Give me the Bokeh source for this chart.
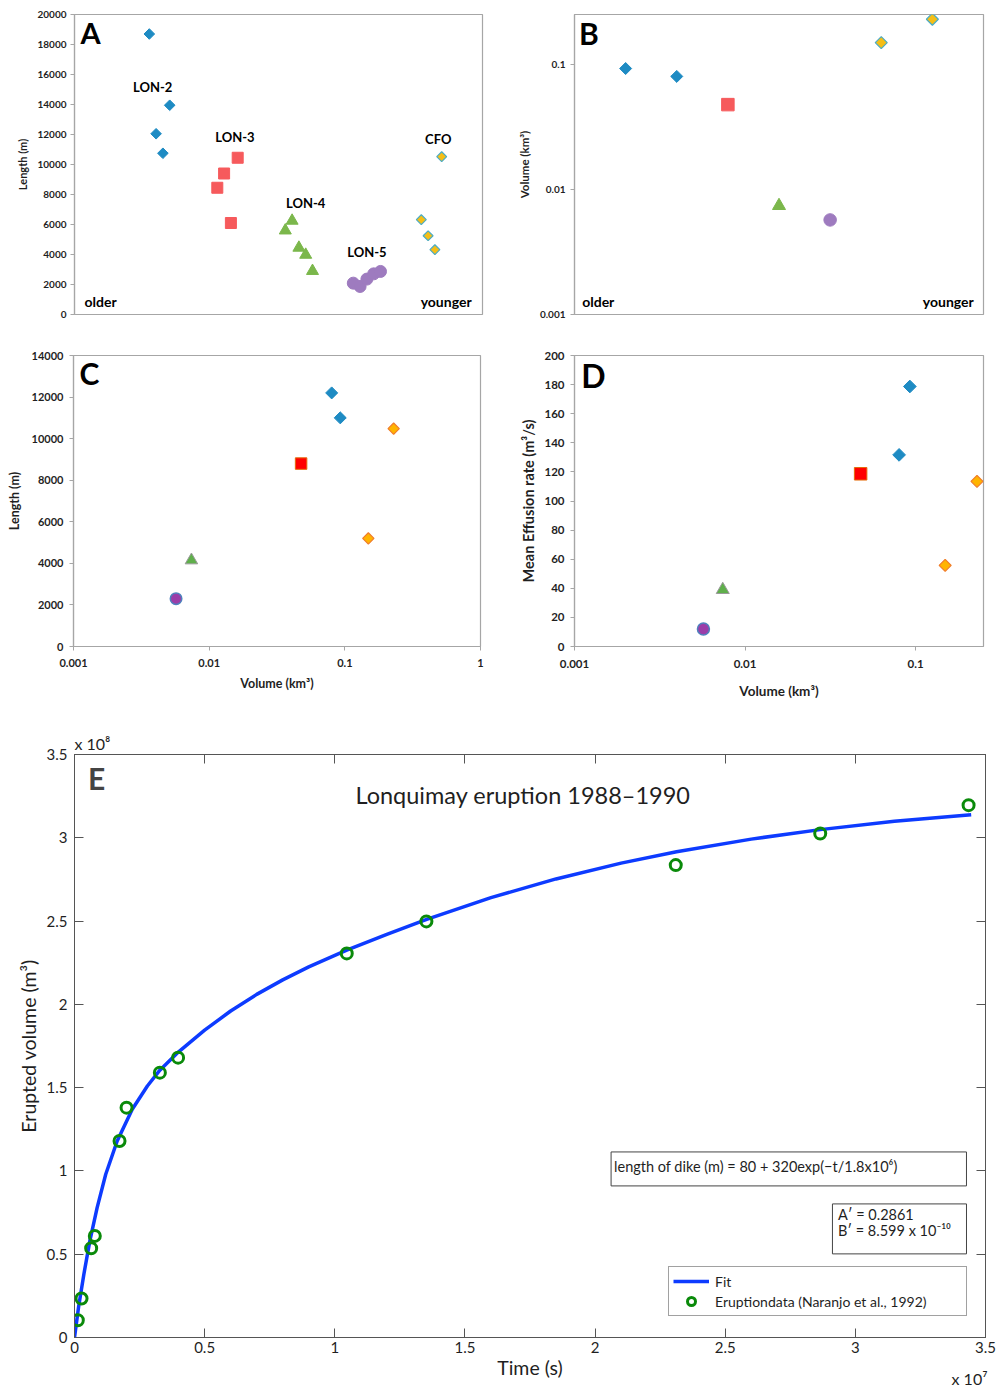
import numpy as np
from bokeh.plotting import figure
from bokeh.layouts import column, row
from bokeh.models import (Label, FixedTicker, CustomJSTickFormatter, LinearAxis,
                          BoxAnnotation, Legend, LegendItem, Range1d, Title)
from bokeh.embed import file_html
from bokeh.resources import INLINE

FONT = "Lato"

# ---------------- Panel A: relative age order vs dike length (m) ----------------
a_lon2_order = [11, 12, 13, 14]
a_lon2_length = [18700, 12050, 10750, 13950]
a_lon3_order = [21, 22, 23, 24]
a_lon3_length = [8450, 9400, 6100, 10450]
a_lon4_order = [31, 32, 33, 34, 35]
a_lon4_length = [5600, 6250, 4450, 3980, 2900]
a_lon5_order = [41, 42, 43, 44, 45]
a_lon5_length = [2090, 1870, 2360, 2710, 2870]
a_cfo_order = [51, 52, 53, 54]
a_cfo_length = [6320, 5250, 4320, 10520]
a_yticks = [0, 2000, 4000, 6000, 8000, 10000, 12000, 14000, 16000, 18000, 20000]
a_ylabels = ["0", "2000", "4000", "6000", "8000", "10000", "12000", "14000", "16000", "18000", "20000"]

# ---------------- Panels B-D: per eruptive unit ----------------
vol_lon2 = [0.0925, 0.0800]
len_lon2 = [11000, 12200]
rate_lon2 = [178.7, 131.7]
vol_lon3 = [0.0476]
len_lon3 = [8800]
rate_lon3 = [118.7]
vol_lon4 = [0.0074]
len_lon4 = [4150]
rate_lon4 = [39.0]
vol_lon5 = [0.0057]
len_lon5 = [2300]
rate_lon5 = [12.0]
vol_cfo = [0.149, 0.229]
len_cfo = [5200, 10480]
rate_cfo = [55.8, 113.5]
b_order_lon2 = [1, 2]
b_order_lon3 = [3]
b_order_lon4 = [4]
b_order_lon5 = [5]
b_order_cfo = [6, 7]

log_ticks = [0.001, 0.01, 0.1, 1]
log_labels = ["0.001", "0.01", "0.1", "1"]
c_yticks = [0, 2000, 4000, 6000, 8000, 10000, 12000, 14000]
c_ylabels = ["0", "2000", "4000", "6000", "8000", "10000", "12000", "14000"]
d_yticks = [0, 20, 40, 60, 80, 100, 120, 140, 160, 180, 200]
d_ylabels = ["0", "20", "40", "60", "80", "100", "120", "140", "160", "180", "200"]

# ---------------- Panel E: Lonquimay eruption ----------------
e_time = [1.27e5, 2.7e5, 6.4e5, 7.8e5, 1.73e6, 2.0e6, 3.28e6, 3.98e6,
          1.046e7, 1.352e7, 2.31e7, 2.865e7, 3.435e7]
e_volume = [1.04e7, 2.34e7, 5.36e7, 6.10e7, 1.18e8, 1.38e8, 1.59e8, 1.68e8,
            2.306e8, 2.498e8, 2.836e8, 3.026e8, 3.196e8]
fit_time = [0, 1.54e5, 3.6e5, 5.9e5, 8.7e5, 1.2e6, 1.64e6, 2.22e6, 2.8e6, 3.28e6,
            4.0e6, 5.0e6, 6.0e6, 7.0e6, 8.0e6, 9.0e6, 1.046e7, 1.2e7, 1.353e7, 1.6e7,
            1.85e7, 2.1e7, 2.313e7, 2.6e7, 2.865e7, 3.15e7, 3.445e7]
fit_volume = [0, 1.8e7, 3.8e7, 5.8e7, 7.8e7, 9.8e7, 1.18e8, 1.37e8, 1.51e8, 1.605e8,
              1.715e8, 1.845e8, 1.96e8, 2.06e8, 2.147e8, 2.225e8, 2.325e8, 2.42e8, 2.51e8, 2.641e8,
              2.753e8, 2.848e8, 2.916e8, 2.992e8, 3.049e8, 3.099e8, 3.139e8]
e_xticks = [0, 5e6, 1e7, 1.5e7, 2e7, 2.5e7, 3e7, 3.5e7]
e_xlabels = ["0", "0.5", "1", "1.5", "2", "2.5", "3", "3.5"]
e_yticks = [0, 5e7, 1e8, 1.5e8, 2e8, 2.5e8, 3e8, 3.5e8]
e_ylabels = ["0", "0.5", "1", "1.5", "2", "2.5", "3", "3.5"]

# ---------------- colours ----------------
BLUE = "#1e8bc3"
RED_A = "#f65a5c"
GREEN_A = "#7bb74b"
PURPLE_A = "#9e7bbf"
CFO_FILL = "#f5be16"
CFO_EDGE = "#4bacc6"
RED_C = "#ff0000"
RED_EDGE = "#e46c0a"
GREEN_C = "#5faf4b"
GREEN_EDGE = "#9a9a9a"
PURPLE_C = "#9b3da8"
PURPLE_EDGE = "#4f81bd"
ORANGE = "#ffb400"
ORANGE_EDGE = "#f07c2a"
GRAYL = "#a6a6a6"
TXT = "#1f1f1f"


def fmt(vals, labels):
    code = """
    for (let i = 0; i < vals.length; i++) {
        if (Math.abs(vals[i] - tick) <= 1e-9 * Math.max(1, Math.abs(vals[i]))) return labels[i];
    }
    return "";
    """
    return CustomJSTickFormatter(args=dict(vals=vals, labels=labels), code=code)


def make_panel(width, height, lb, rb, tb, bb, x_range, y_range, x_type="linear", y_type="linear"):
    p = figure(width=width, height=height, x_range=x_range, y_range=y_range,
               x_axis_type=x_type, y_axis_type=y_type,
               output_backend="svg", toolbar_location=None,
               min_border_left=lb, min_border_right=rb, min_border_top=tb, min_border_bottom=bb)
    p.grid.visible = False
    p.outline_line_color = GRAYL
    p.outline_line_width = 1.2
    p.background_fill_color = "white"
    p.border_fill_color = "white"
    return p


def style_axis(ax, ticks, labels, tick_size, label_size, tick_standoff, label_standoff, label=None):
    ax.ticker = FixedTicker(ticks=ticks, minor_ticks=[])
    ax.formatter = fmt(ticks, labels)
    ax.axis_line_color = GRAYL
    ax.axis_line_width = 1.2
    ax.major_tick_line_color = GRAYL
    ax.major_tick_out = 4
    ax.major_tick_in = 0
    ax.minor_tick_line_color = None
    ax.major_label_text_font = FONT
    ax.major_label_text_font_style = "bold"
    ax.major_label_text_font_size = tick_size
    ax.major_label_text_color = TXT
    ax.major_label_standoff = tick_standoff
    if label is not None:
        ax.axis_label = label
        ax.axis_label_text_font = FONT
        ax.axis_label_text_font_style = "bold"
        ax.axis_label_text_font_size = label_size
        ax.axis_label_text_color = TXT
        ax.axis_label_standoff = label_standoff


def diamond(p, x, y, size, fill, edge=None, lw=1.0):
    p.scatter(x, y, marker="square", angle=np.pi / 4, size=size, fill_color=fill,
              line_color=edge if edge else fill, line_width=lw)


def text(p, x, y, s, size, align="center", baseline="middle", bold=True):
    p.add_layout(Label(x=x, y=y, text=s, text_font=FONT, text_font_size=size,
                       text_font_style="bold" if bold else "normal", text_color="#000000",
                       text_align=align, text_baseline=baseline))


# ================= Panel A =================
pA = make_panel(500, 335, 74, 18, 14, 21, Range1d(0, 60), Range1d(0, 20000))
pA.xaxis.visible = False
style_axis(pA.yaxis[0], a_yticks, a_ylabels, "10px", "11px", 4, 5, "Length (m)")
diamond(pA, a_lon2_order, a_lon2_length, 7.5, BLUE)
pA.scatter(a_lon3_order, a_lon3_length, marker="square", size=11, fill_color=RED_A, line_color=RED_A)
pA.scatter(a_lon4_order, a_lon4_length, marker="triangle", size=12, fill_color=GREEN_A, line_color=GREEN_A)
pA.scatter(a_lon5_order, a_lon5_length, marker="circle", size=12, fill_color=PURPLE_A, line_color=PURPLE_A)
diamond(pA, a_cfo_order, a_cfo_length, 7, CFO_FILL, CFO_EDGE, 1.2)
text(pA, 2.35, 18767, "A", "29px")
text(pA, 11.5, 15200, "LON-2", "13px")
text(pA, 23.6, 11820, "LON-3", "13px")
text(pA, 34.0, 7447, "LON-4", "13px")
text(pA, 43.0, 4153, "LON-5", "13px")
text(pA, 53.5, 11667, "CFO", "13px")
text(pA, 1.47, 867, "older", "14px", align="left")
text(pA, 58.4, 867, "younger", "14px", align="right")

# ================= Panel B =================
pB = make_panel(497, 335, 74, 14, 14, 21, Range1d(0, 8), Range1d(0.001, 0.25), y_type="log")
pB.xaxis.visible = False
style_axis(pB.yaxis[0], log_ticks, log_labels, "10px", "11.5px", 5, 6, "Volume (km³)")
diamond(pB, b_order_lon2, vol_lon2, 8.5, BLUE)
pB.scatter(b_order_lon3, vol_lon3, marker="square", size=12.5, fill_color=RED_A, line_color=RED_A)
pB.scatter(b_order_lon4, vol_lon4, marker="triangle", size=13, fill_color=GREEN_A, line_color=GREEN_A)
pB.scatter(b_order_lon5, vol_lon5, marker="circle", size=12.5, fill_color=PURPLE_A, line_color=PURPLE_A)
diamond(pB, b_order_cfo, vol_cfo, 8.5, CFO_FILL, CFO_EDGE, 1.2)
text(pB, 0.28, 0.1766, "B", "30px")
text(pB, 0.15, 0.00127, "older", "14px", align="left")
text(pB, 7.81, 0.00127, "younger", "14px", align="right")

# ================= Panel C =================
pC = make_panel(500, 375, 73, 20, 20, 61, Range1d(0.001, 1), Range1d(0, 14000), x_type="log")
style_axis(pC.xaxis[0], log_ticks, log_labels, "11px", "12.5px", 8, 6, "Volume (km³)")
style_axis(pC.yaxis[0], c_yticks, c_ylabels, "11px", "12.5px", 6, 7, "Length (m)")
diamond(pC, vol_lon2, len_lon2, 8.5, BLUE)
pC.scatter(vol_lon3, len_lon3, marker="square", size=11.5, fill_color=RED_C, line_color=RED_EDGE, line_width=1)
pC.scatter(vol_lon4, len_lon4, marker="triangle", size=12.5, fill_color=GREEN_C, line_color=GREEN_EDGE, line_width=1)
pC.scatter(vol_lon5, len_lon5, marker="circle", size=11.5, fill_color=PURPLE_C, line_color=PURPLE_EDGE, line_width=1.5)
diamond(pC, vol_cfo, len_cfo, 8, ORANGE, ORANGE_EDGE, 1.2)
text(pC, 0.00131, 13163, "C", "30px")

# ================= Panel D =================
pD = make_panel(497, 375, 74, 14, 17, 64, Range1d(0.001, 0.25), Range1d(0, 200), x_type="log")
style_axis(pD.xaxis[0], log_ticks, log_labels, "11.5px", "13.5px", 9, 12, "Volume (km³)")
style_axis(pD.yaxis[0], d_yticks, d_ylabels, "11.5px", "14.5px", 6, 4, "Mean Effusion rate (m³/s)")
diamond(pD, vol_lon2, rate_lon2, 9, BLUE)
pD.scatter(vol_lon3, rate_lon3, marker="square", size=12.5, fill_color=RED_C, line_color=RED_EDGE, line_width=1)
pD.scatter(vol_lon4, rate_lon4, marker="triangle", size=13, fill_color=GREEN_C, line_color=GREEN_EDGE, line_width=1)
pD.scatter(vol_lon5, rate_lon5, marker="circle", size=12, fill_color=PURPLE_C, line_color=PURPLE_EDGE, line_width=1.5)
diamond(pD, vol_cfo, rate_cfo, 8.5, ORANGE, ORANGE_EDGE, 1.2)
text(pD, 0.00129, 186.2, "D", "32px")

# ================= Panel E =================
AX = "#555555"
pE = figure(width=997, height=678, x_range=Range1d(0, 3.5e7), y_range=Range1d(0, 3.5e8),
            output_backend="svg", toolbar_location=None,
            min_border_left=74, min_border_right=12, min_border_top=44, min_border_bottom=51)
pE.grid.visible = False
pE.outline_line_color = AX
pE.background_fill_color = "white"
pE.border_fill_color = "white"

for ax, ticks, labels in ((pE.xaxis[0], e_xticks, e_xlabels), (pE.yaxis[0], e_yticks, e_ylabels)):
    ax.ticker = FixedTicker(ticks=ticks, minor_ticks=[])
    ax.formatter = fmt(ticks, labels)
    ax.axis_line_color = AX
    ax.major_tick_line_color = AX
    ax.major_tick_in = 9
    ax.major_tick_out = 0
    ax.minor_tick_line_color = None
    ax.major_label_text_font = FONT
    ax.major_label_text_font_size = "15px"
    ax.major_label_text_color = TXT
    ax.axis_label_text_font = FONT
    ax.axis_label_text_font_style = "normal"
    ax.axis_label_text_font_size = "19.5px"
    ax.axis_label_text_color = TXT
pE.xaxis[0].axis_label = "Time (s)"
pE.xaxis[0].major_label_standoff = 4
pE.xaxis[0].axis_label_standoff = 0
pE.yaxis[0].axis_label = "Erupted volume (m³)"
pE.yaxis[0].major_label_standoff = 7
pE.yaxis[0].axis_label_standoff = 4

for ticks, side in ((e_xticks, "above"), (e_yticks, "right")):
    extra = LinearAxis(ticker=FixedTicker(ticks=ticks, minor_ticks=[]),
                       formatter=CustomJSTickFormatter(code='return ""'),
                       major_tick_in=9, major_tick_out=0, minor_tick_line_color=None,
                       axis_line_color=AX, major_tick_line_color=AX,
                       major_label_text_font_size="0px", major_label_standoff=0)
    pE.add_layout(extra, side)

# axis multipliers (outside the frame -> titles in the side panels)
pE.add_layout(Title(text="x 10⁸", align="left", vertical_align="bottom", standoff=3, offset=0,
                    text_font=FONT, text_font_size="16px", text_font_style="normal",
                    text_color=TXT), "above")
pE.add_layout(Title(text="x 10⁷", align="right", vertical_align="top", standoff=-26, offset=-2,
                    text_font=FONT, text_font_size="16px", text_font_style="normal",
                    text_color=TXT), "below")

fit_r = pE.line(fit_time, fit_volume, line_color="#0d3bff", line_width=3.5)
dat_r = pE.scatter(e_time, e_volume, marker="circle", size=11, fill_color=None,
                   line_color="#0a8a0a", line_width=3)

pE.add_layout(Label(x=0.0846e7, y=3.357e8, text="E", text_font=FONT, text_font_size="30px",
                    text_font_style="bold", text_align="center", text_baseline="middle"))
pE.add_layout(Label(x=1.723e7, y=3.256e8, text="Lonquimay eruption 1988–1990", text_font=FONT,
                    text_font_size="23.5px", text_align="center", text_baseline="middle", text_color=TXT))

# text boxes
for (l, r, b, t) in ((2.0615e7, 3.4269e7, 0.910e8, 1.114e8), (2.912e7, 3.427e7, 0.502e8, 0.802e8)):
    pE.add_layout(BoxAnnotation(left=l, right=r, bottom=b, top=t, fill_color="white", fill_alpha=1,
                                line_color="#444444", line_alpha=1, line_width=1, line_dash="solid"))
pE.add_layout(Label(x=2.073e7, y=1.024e8, text="length of dike (m) = 80 + 320exp(−t/1.8x10⁶)",
                    text_font=FONT, text_font_size="14.5px", text_align="left", text_baseline="middle",
                    text_color=TXT))
pE.add_layout(Label(x=2.933e7, y=0.736e8, text="A′ = 0.2861", text_font=FONT, text_font_size="14.5px",
                    text_align="left", text_baseline="middle", text_color=TXT))
pE.add_layout(Label(x=2.933e7, y=0.640e8, text="B′ = 8.599 x 10⁻¹⁰", text_font=FONT,
                    text_font_size="14.5px", text_align="left", text_baseline="middle", text_color=TXT))

legend = Legend(items=[LegendItem(label="Fit", renderers=[fit_r]),
                       LegendItem(label="Eruptiondata (Naranjo et al., 1992)", renderers=[dat_r])],
                location=(594, 21), orientation="vertical",
                label_text_font=FONT, label_text_font_size="14px", label_text_color=TXT,
                glyph_width=36, glyph_height=20, label_height=20, label_standoff=6,
                label_width=247, padding=4, spacing=0, margin=0,
                border_line_color="#444444", border_line_width=1, background_fill_alpha=1)
pE.add_layout(legend)

layout = column(row(pA, pB), row(pC, pD), pE)
open("out.html", "w").write(file_html(layout, INLINE))
